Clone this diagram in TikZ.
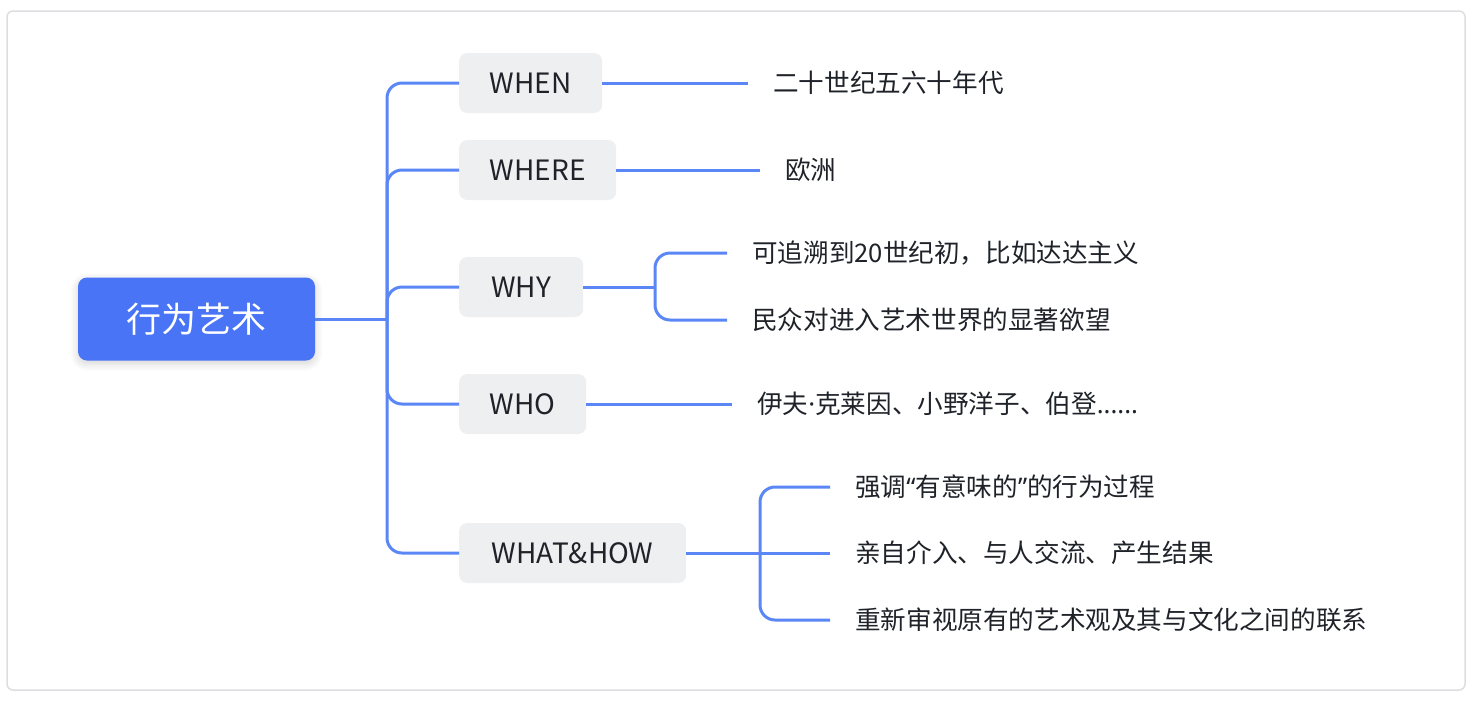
\documentclass[tikz,border=0pt]{standalone}
\usepackage{fontspec}
\setmainfont{Noto Sans CJK SC}
\newfontfamily\lat{Noto Sans}
\usetikzlibrary{shadows.blur}
\definecolor{lineblue}{HTML}{5A86F6}
\definecolor{rootblue}{HTML}{4874F5}
\definecolor{boxgray}{HTML}{EEEFF1}
\definecolor{txt}{HTML}{1F2329}
\definecolor{frame}{HTML}{DEDEE2}
\tikzset{
  conn/.style={draw=lineblue, line width=3pt, rounded corners=15pt},
  rootbox/.style={fill=rootblue, rounded corners=9pt, minimum width=237pt, minimum height=83pt,
    text=white, font=\fontsize{35}{40}\selectfont, inner sep=0pt,
    text height=30.5pt, text depth=4pt,
    blur shadow={shadow xshift=0pt, shadow yshift=-3pt, shadow blur steps=8, shadow opacity=18, shadow blur radius=8pt}},
  topic/.style={fill=boxgray, rounded corners=8pt, minimum height=60pt, anchor=west,
    text=txt, font=\fontsize{28}{32}\selectfont, inner sep=0pt,
    text height=23.5pt, text depth=3pt},
  leaf/.style={anchor=west, text=txt, font=\fontsize{25.6}{30}\selectfont, inner ysep=0pt, inner xsep=25pt,
    text height=22.5pt, text depth=3pt}
}
\begin{document}
\begin{tikzpicture}[x=1pt, y=-1pt]
\useasboundingbox (0,0) rectangle (1478,702);
\draw[frame, line width=1.5pt, rounded corners=6pt] (7,11) rectangle (1465,690);

\node[rootbox] (root) at (196.5,319) {行为艺术};

\node[topic, minimum width=143pt] (when) at (459,83) {WHEN};
\node[topic, minimum width=157pt] (where) at (459,170) {WHERE};
\node[topic, minimum width=124pt] (why) at (459,287) {WHY};
\node[topic, minimum width=127pt] (who) at (459,404) {WHO};
\node[topic, minimum width=227pt] (wh) at (459,553) {WHAT\&HOW};

\node[leaf] (l1) at (748,83) {二十世纪五六十年代};
\node[leaf] (l2) at (760,170) {欧洲};
\node[leaf] (l3) at (727,253) {可追溯到20世纪初，比如达达主义};
\node[leaf] (l4) at (727,320) {民众对进入艺术世界的显著欲望};
\node[leaf] (l5) at (732,404) {伊夫{\lat ·}克莱因、小野洋子、伯登{\lat ......}};
\node[leaf] (l6) at (830,487) {强调{\lat “}有意味的{\lat ”}的行为过程};
\node[leaf] (l7) at (830,553) {亲自介入、与人交流、产生结果};
\node[leaf] (l8) at (830,620) {重新审视原有的艺术观及其与文化之间的联系};

\coordinate (rj) at (387,319);
\coordinate (yj) at (655,287);
\coordinate (wj) at (760,553);

\draw[conn] (root.east) -- (rj);
\draw[conn] (rj) |- (when.west);
\draw[conn] (rj) |- (where.west);
\draw[conn] (rj) |- (why.west);
\draw[conn] (rj) |- (who.west);
\draw[conn] (rj) |- (wh.west);

\draw[conn] (when.east) -- (l1.west);
\draw[conn] (where.east) -- (l2.west);
\draw[conn] (why.east) -- (yj);
\draw[conn] (yj) |- (l3.west);
\draw[conn] (yj) |- (l4.west);
\draw[conn] (who.east) -- (l5.west);
\draw[conn] (wh.east) -- (wj);
\draw[conn] (wj) |- (l6.west);
\draw[conn] (wj) -- (l7.west);
\draw[conn] (wj) |- (l8.west);
\end{tikzpicture}
\end{document}
